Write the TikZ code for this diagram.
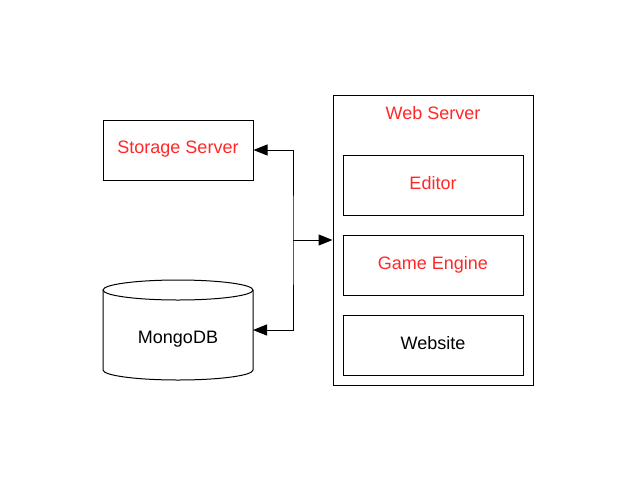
\documentclass[tikz,border=0pt]{standalone}
\usepackage{fontspec}
\setmainfont{Liberation Sans}
\usetikzlibrary{arrows.meta}
\definecolor{lblred}{RGB}{255,40,40}
\begin{document}
\begin{tikzpicture}[x=1pt,y=-1pt,line width=1pt,
  lbl/.style={font=\fontsize{18}{21}\selectfont},
  box/.style={draw,rectangle,minimum width=150pt,minimum height=60pt,inner sep=0pt,lbl,text depth=5pt},
  inbox/.style={draw,rectangle,minimum width=180pt,minimum height=60pt,inner sep=0pt,lbl,text depth=5pt},
  tip/.style={-{Triangle[length=14pt,width=11pt]}},
  tips/.style={{Triangle[length=14pt,width=11pt]}-{Triangle[length=14pt,width=11pt]}}]
\useasboundingbox (0,0) rectangle (629,480);
\node[box,text=lblred] (storage) at (178,150) {Storage Server};
% web server
\node[draw,rectangle,minimum width=200pt,minimum height=290pt,inner sep=0pt] (ws) at (433,240) {};
\node[lbl,text=lblred] (wslbl) at (433,113) {Web Server};
\node[inbox,text=lblred] (editor) at (433,185) {Editor};
\node[inbox,text=lblred] (engine) at (433,265) {Game Engine};
\node[inbox] (website) at (433,345) {Website};
% cylinder
\draw (103,290) -- (103,370) arc[start angle=180,end angle=360,x radius=75pt,y radius=10pt] -- (253,290);
\draw (178,290) ellipse[x radius=75pt,y radius=10pt];
\node[lbl] (mongo) at (178,339) {MongoDB};
\coordinate (mongoe) at (253,330);
\coordinate (j) at (293,240);
\draw[tip] (j) -- (ws.west);
\draw[tips] (storage.east) -| (j) |- (mongoe);
\end{tikzpicture}
\end{document}
